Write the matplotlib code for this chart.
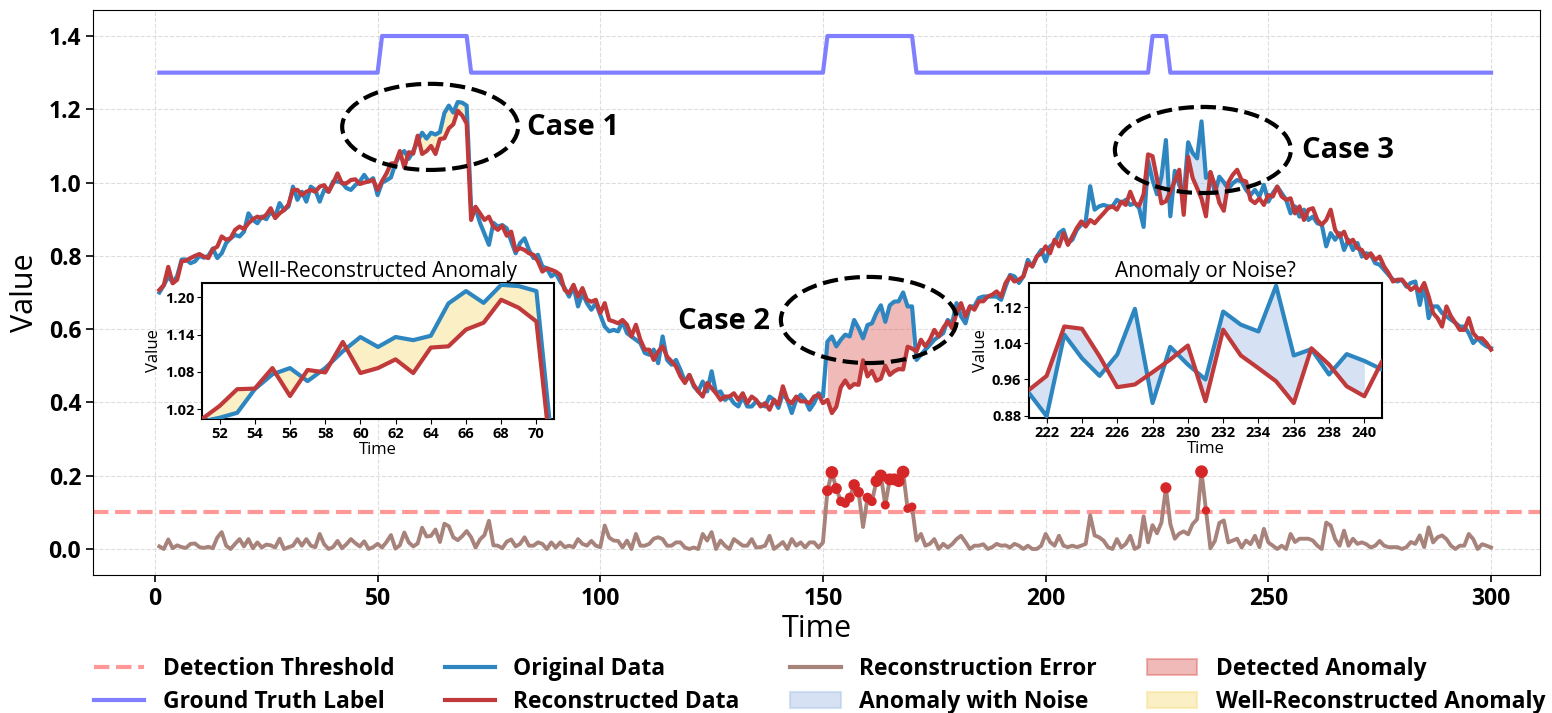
import numpy as np
import matplotlib.pyplot as plt
from matplotlib.patches import Ellipse, Patch
from matplotlib.lines import Line2D

plt.rcParams['font.family'] = ['Open Sans', 'DejaVu Sans']

time = np.arange(1, 301)

original = [
    0.700, 0.720, 0.744, 0.727, 0.745, 0.790, 0.790, 0.780, 0.785, 0.800,
    0.795, 0.800, 0.820, 0.794, 0.807, 0.835, 0.848, 0.857, 0.853, 0.866,
    0.916, 0.898, 0.889, 0.907, 0.900, 0.920, 0.907, 0.944, 0.925, 0.935,
    0.989, 0.953, 0.975, 0.948, 0.989, 0.980, 0.948, 0.980, 0.975, 1.003,
    1.003, 1.000, 0.985, 0.980, 0.993, 1.003, 1.021, 1.003, 1.012, 0.966,
    1.000, 1.006, 1.014, 1.052, 1.076, 1.086, 1.065, 1.086, 1.113, 1.136,
    1.120, 1.136, 1.131, 1.138, 1.190, 1.210, 1.191, 1.220, 1.218, 1.210,
    0.930, 0.930, 0.890, 0.860, 0.830, 0.890, 0.880, 0.884, 0.875, 0.840,
    0.807, 0.835, 0.848, 0.816, 0.794, 0.803, 0.771, 0.766, 0.744, 0.753,
    0.730, 0.712, 0.689, 0.716, 0.662, 0.698, 0.671, 0.653, 0.671, 0.639,
    0.607, 0.594, 0.598, 0.594, 0.621, 0.589, 0.580, 0.571, 0.562, 0.535,
    0.530, 0.544, 0.507, 0.580, 0.516, 0.503, 0.516, 0.489, 0.457, 0.475,
    0.444, 0.430, 0.457, 0.430, 0.485, 0.425, 0.430, 0.407, 0.416, 0.398,
    0.389, 0.416, 0.389, 0.389, 0.403, 0.394, 0.389, 0.416, 0.407, 0.385,
    0.425, 0.407, 0.371, 0.407, 0.421, 0.407, 0.380, 0.398, 0.425, 0.416,
    0.566, 0.580, 0.553, 0.571, 0.585, 0.580, 0.625, 0.603, 0.575, 0.611,
    0.616, 0.644, 0.665, 0.620, 0.665, 0.675, 0.676, 0.700, 0.662, 0.662,
    0.516, 0.530, 0.544, 0.557, 0.571, 0.580, 0.589, 0.625, 0.616, 0.671,
    0.635, 0.616, 0.662, 0.662, 0.685, 0.689, 0.689, 0.689, 0.689, 0.680,
    0.716, 0.748, 0.744, 0.726, 0.744, 0.789, 0.771, 0.798, 0.816, 0.785,
    0.826, 0.835, 0.862, 0.871, 0.835, 0.844, 0.871, 0.885, 0.894, 0.990,
    0.926, 0.935, 0.939, 0.935, 0.935, 0.953, 0.944, 0.953, 0.939, 0.944,
    0.930, 0.879, 1.059, 1.007, 0.968, 1.015, 1.116, 0.908, 1.032, 0.993,
    0.960, 1.110, 1.081, 1.066, 1.167, 1.013, 1.027, 0.971, 1.016, 1.001,
    0.982, 0.998, 1.007, 1.003, 0.980, 0.966, 0.980, 0.962, 0.994, 0.948,
    0.971, 0.989, 0.971, 0.953, 0.916, 0.935, 0.907, 0.926, 0.898, 0.907,
    0.889, 0.885, 0.826, 0.862, 0.844, 0.862, 0.816, 0.844, 0.816, 0.835,
    0.798, 0.807, 0.803, 0.780, 0.776, 0.762, 0.748, 0.735, 0.730, 0.735,
    0.716, 0.726, 0.730, 0.666, 0.721, 0.630, 0.662, 0.662, 0.644, 0.635,
    0.626, 0.617, 0.607, 0.607, 0.589, 0.562, 0.575, 0.562, 0.553, 0.548,
]

reconstructed = [
    0.707, 0.720, 0.770, 0.725, 0.735, 0.785, 0.787, 0.794, 0.800, 0.805,
    0.798, 0.794, 0.818, 0.825, 0.853, 0.844, 0.848, 0.871, 0.880, 0.873,
    0.889, 0.900, 0.907, 0.903, 0.912, 0.930, 0.903, 0.916, 0.925, 0.940,
    0.980, 0.980, 0.966, 0.975, 0.980, 0.975, 0.989, 0.993, 0.975, 0.998,
    1.025, 0.998, 0.998, 1.007, 1.009, 0.996, 1.000, 1.003, 1.007, 0.980,
    1.004, 1.025, 1.052, 1.053, 1.086, 1.041, 1.083, 1.079, 1.128, 1.078,
    1.086, 1.100, 1.078, 1.119, 1.121, 1.148, 1.159, 1.196, 1.183, 1.161,
    0.898, 0.934, 0.916, 0.898, 0.907, 0.880, 0.871, 0.882, 0.855, 0.866,
    0.814, 0.821, 0.816, 0.807, 0.803, 0.785, 0.757, 0.766, 0.762, 0.757,
    0.748, 0.707, 0.698, 0.721, 0.689, 0.712, 0.680, 0.675, 0.680, 0.644,
    0.671, 0.625, 0.621, 0.616, 0.625, 0.612, 0.580, 0.612, 0.571, 0.544,
    0.544, 0.516, 0.539, 0.553, 0.525, 0.512, 0.498, 0.471, 0.453, 0.475,
    0.448, 0.430, 0.416, 0.453, 0.439, 0.425, 0.407, 0.416, 0.416, 0.425,
    0.407, 0.425, 0.398, 0.416, 0.407, 0.389, 0.398, 0.380, 0.407, 0.394,
    0.444, 0.407, 0.398, 0.416, 0.403, 0.403, 0.398, 0.416, 0.421, 0.398,
    0.407, 0.371, 0.388, 0.441, 0.460, 0.440, 0.450, 0.448, 0.515, 0.471,
    0.486, 0.459, 0.465, 0.500, 0.475, 0.485, 0.491, 0.490, 0.552, 0.547,
    0.539, 0.571, 0.553, 0.571, 0.598, 0.580, 0.603, 0.621, 0.603, 0.644,
    0.671, 0.635, 0.662, 0.653, 0.676, 0.676, 0.689, 0.694, 0.703, 0.689,
    0.726, 0.744, 0.730, 0.735, 0.744, 0.780, 0.771, 0.798, 0.807, 0.826,
    0.807, 0.844, 0.826, 0.862, 0.830, 0.853, 0.876, 0.894, 0.880, 0.898,
    0.889, 0.903, 0.916, 0.930, 0.935, 0.926, 0.948, 0.939, 0.975, 0.944,
    0.937, 0.968, 1.077, 1.072, 1.011, 0.943, 0.949, 0.976, 1.004, 1.035,
    0.912, 1.070, 1.013, 0.985, 0.956, 0.908, 1.029, 0.993, 0.945, 0.923,
    1.000, 1.021, 1.035, 1.007, 1.003, 0.953, 0.944, 0.957, 0.939, 0.966,
    0.962, 0.989, 0.962, 0.953, 0.957, 0.916, 0.935, 0.898, 0.926, 0.930,
    0.898, 0.885, 0.898, 0.926, 0.871, 0.853, 0.866, 0.835, 0.844, 0.821,
    0.816, 0.794, 0.807, 0.789, 0.798, 0.771, 0.753, 0.730, 0.735, 0.735,
    0.721, 0.707, 0.716, 0.703, 0.726, 0.689, 0.644, 0.630, 0.607, 0.662,
    0.635, 0.617, 0.598, 0.598, 0.630, 0.589, 0.575, 0.575, 0.562, 0.544,
]

# ground truth anomaly windows (inclusive)
gt_ranges = [(51, 70), (151, 170), (224, 227)]
well_range = (51, 70)
detected_range = (151, 170)
noise_range = (221, 240)
threshold = 0.1

original = np.array(original)
reconstructed = np.array(reconstructed)
error = np.abs(original - reconstructed)

gt_label = np.zeros(len(time))
for a, b in gt_ranges:
    gt_label[(time >= a) & (time <= b)] = 1
gt_line = 1.3 + 0.1 * gt_label

c_orig = '#2e86c1'
c_recon = '#c0393b'
c_gt = '#7f7fff'
c_thr = '#ff9896'
c_err = '#a7837b'
c_det = '#d9534f'
c_noise = '#aec7e8'
c_well = '#f5d76e'

fig = plt.figure(figsize=(15.52, 7.13), dpi=100)
ax = fig.add_axes([93 / 1552, 1 - 575 / 713, (1540 - 93) / 1552, (575 - 10) / 713])


def in_range(r):
    return (time >= r[0]) & (time <= r[1])


def draw_series(a):
    a.fill_between(time, original, reconstructed, where=in_range(detected_range),
                   color=c_det, alpha=0.4, lw=0, zorder=1)
    a.fill_between(time, original, reconstructed, where=in_range(noise_range),
                   color=c_noise, alpha=0.5, lw=0, zorder=1)
    a.fill_between(time, original, reconstructed, where=in_range(well_range),
                   color=c_well, alpha=0.4, lw=0, zorder=1)
    a.plot(time, original, color=c_orig, lw=3, zorder=3)
    a.plot(time, reconstructed, color=c_recon, lw=3, zorder=4)


draw_series(ax)
ax.plot(time, gt_line, color=c_gt, lw=3, zorder=3)
ax.axhline(threshold, color=c_thr, ls='--', lw=3, zorder=2)
ax.plot(time, error, color=c_err, lw=2.8, zorder=3)

mask = error > threshold
sizes = 22 + 400 * (error[mask] - threshold)
ax.scatter(time[mask], error[mask], s=sizes, color='#d62728', zorder=5)

# dashed ellipses around the three cases
cases = [((61.8, 1.152), 'Case 1', (83.5, 1.150), 'left'),
         ((160.3, 0.625), 'Case 2', (138.0, 0.620), 'right'),
         ((235.3, 1.089), 'Case 3', (257.6, 1.087), 'left')]
for center, label, tpos, ha in cases:
    ax.add_patch(Ellipse(center, 39.5, 0.235, fill=False, ec='black',
                         ls='--', lw=3, zorder=6))
    ax.text(tpos[0], tpos[1], label, ha=ha, va='center', fontsize=21,
            fontweight='bold', zorder=7)

ax.set_xlim(-13.9, 311)
ax.set_ylim(-0.071, 1.471)
ax.set_xticks(range(0, 301, 50))
ax.set_yticks(np.arange(0, 1.41, 0.2))
ax.set_yticklabels([f'{v:.1f}' for v in np.arange(0, 1.41, 0.2)])
ax.tick_params(labelsize=16.5, width=1.2, length=5)
for lab in ax.get_xticklabels() + ax.get_yticklabels():
    lab.set_fontweight('bold')
ax.set_xlabel('Time', fontsize=22, labelpad=2)
ax.set_ylabel('Value', fontsize=22, labelpad=6)
ax.grid(True, ls='--', color='#dddddd', lw=0.8)
ax.set_axisbelow(True)

# insets
insets = [
    ([202 / 1552, 1 - 419 / 713, 352 / 1552, 136 / 713], (51, 71), (1.004, 1.223),
     [1.02, 1.08, 1.14, 1.20], range(52, 71, 2), 'Well-Reconstructed Anomaly'),
    ([1029 / 1552, 1 - 418 / 713, 353 / 1552, 135 / 713], (221, 241), (0.875, 1.173),
     [0.88, 0.96, 1.04, 1.12], range(222, 241, 2), 'Anomaly or Noise?'),
]
for rect, xl, yl, yt, xt, title in insets:
    ins = fig.add_axes(rect)
    ins.set_facecolor('white')
    draw_series(ins)
    ins.set_xlim(*xl)
    ins.set_ylim(*yl)
    ins.set_xticks(list(xt))
    ins.set_yticks(yt)
    ins.set_yticklabels([f'{v:.2f}' for v in yt])
    ins.tick_params(labelsize=10.5, pad=2)
    for lab in ins.get_xticklabels() + ins.get_yticklabels():
        lab.set_fontweight('bold')
    ins.set_xlabel('Time', fontsize=12, labelpad=1)
    ins.set_ylabel('Value', fontsize=12, labelpad=2)
    ins.set_title(title, fontsize=15, pad=4)
    for s in ins.spines.values():
        s.set_linewidth(1.5)

handles = [
    Line2D([], [], color=c_thr, ls='--', lw=3),
    Line2D([], [], color=c_gt, lw=3),
    Line2D([], [], color=c_orig, lw=3),
    Line2D([], [], color=c_recon, lw=3),
    Line2D([], [], color=c_err, lw=3),
    Patch(facecolor=c_noise, edgecolor=c_noise, alpha=0.5, lw=1.5),
    Patch(facecolor=c_det, edgecolor=c_det, alpha=0.4, lw=1.5),
    Patch(facecolor=c_well, edgecolor=c_well, alpha=0.4, lw=1.5),
]
labels = ['Detection Threshold', 'Ground Truth Label', 'Original Data',
          'Reconstructed Data', 'Reconstruction Error', 'Anomaly with Noise',
          'Detected Anomaly', 'Well-Reconstructed Anomaly']
leg = fig.legend(handles, labels, loc='upper center', bbox_to_anchor=(0.528, 0.108),
                 ncol=4, frameon=False, fontsize=16.5, handlelength=2.2,
                 handletextpad=0.8, columnspacing=2.2, labelspacing=0.4)
for t in leg.get_texts():
    t.set_fontweight('bold')

plt.savefig('out.png', dpi=100)
plt.close()
